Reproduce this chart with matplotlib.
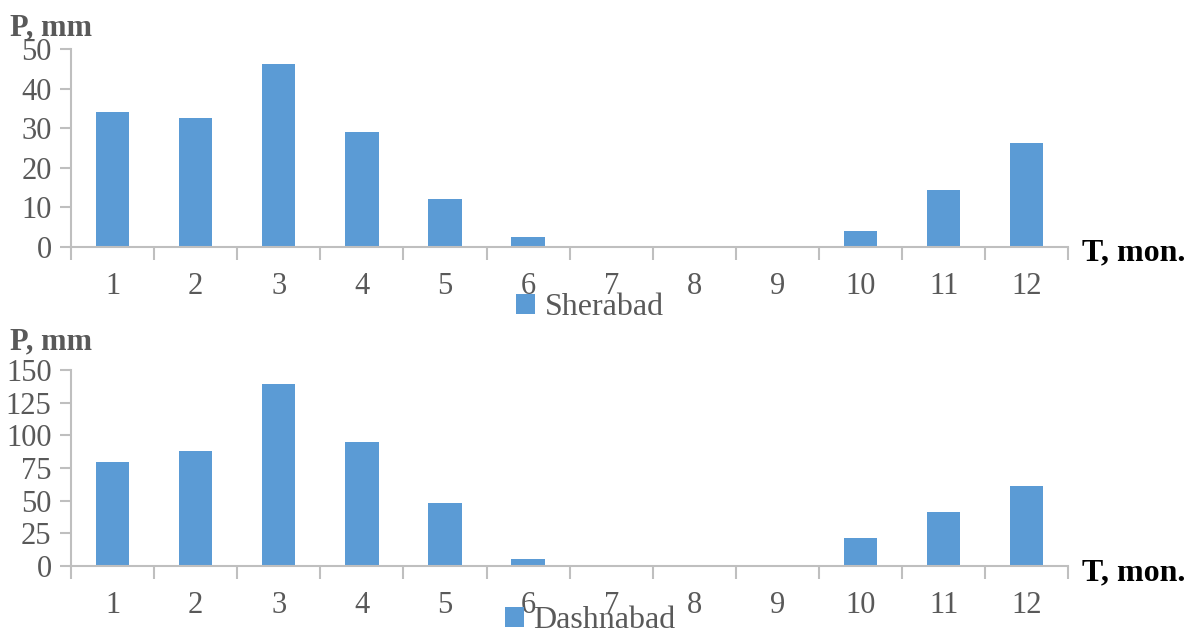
import matplotlib
matplotlib.use('Agg')
import matplotlib.pyplot as plt
import numpy as np

# monthly precipitation, mm
months = [str(m) for m in range(1, 13)]
sherabad = [34.2, 32.5, 46.2, 29.0, 12.0, 2.5, 0.1, 0.1, 0.05, 4.0, 14.3, 26.2]
dashnabad = [79.8, 88.0, 139.0, 94.9, 48.0, 5.1, 0.7, 0.2, 0.8, 21.2, 41.0, 61.4]
top_yticks = [0, 10, 20, 30, 40, 50]
bottom_yticks = [0, 25, 50, 75, 100, 125, 150]

plt.rcParams['font.family'] = ['Liberation Serif', 'DejaVu Serif']

bar_color = '#5B9BD5'
axis_gray = '#BFBFBF'
text_gray = '#595959'

fig = plt.figure(figsize=(11.9, 6.28), dpi=100)


def draw_panel(rect, values, yticks, station, legend_y):
    ax = fig.add_axes(rect)
    x = np.arange(1, 13)
    ax.bar(x, values, width=0.4, color=bar_color, label=station, zorder=2)
    ax.set_xlim(0.5, 12.5)
    ax.set_ylim(0, yticks[-1])
    ax.set_yticks(yticks)
    ax.set_xticks(x)
    ax.set_xticklabels(months)
    ax.set_xticks(np.arange(0.5, 13, 1), minor=True)
    for s in ['top', 'right']:
        ax.spines[s].set_visible(False)
    for s in ['left', 'bottom']:
        ax.spines[s].set_color(axis_gray)
        ax.spines[s].set_linewidth(1.5)
    ax.tick_params(axis='x', which='major', length=0, pad=18,
                   labelsize=22, labelcolor=text_gray)
    ax.tick_params(axis='x', which='minor', length=9, width=1.5,
                   color=axis_gray, direction='out')
    ax.tick_params(axis='y', length=8, width=1.5, color=axis_gray,
                   labelsize=22, labelcolor=text_gray, pad=6)
    leg = ax.legend(loc='center', bbox_to_anchor=(0.496, legend_y),
                    bbox_transform=fig.transFigure, frameon=False,
                    fontsize=23, handlelength=0.6, handleheight=0.6,
                    handletextpad=0.3, borderpad=0)
    for t in leg.get_texts():
        t.set_color(text_gray)
    return ax


draw_panel([0.0597, 0.6067, 0.838, 0.3153], sherabad, top_yticks,
           'Sherabad', 0.510)
draw_panel([0.0597, 0.0987, 0.838, 0.3121], dashnabad, bottom_yticks,
           'Dashnabad', 0.012)

# axis captions
fig.text(0.008, 0.955, 'P, mm', fontsize=22, fontweight='bold',
         color=text_gray, va='center', ha='left')
fig.text(0.008, 0.455, 'P, mm', fontsize=22, fontweight='bold',
         color=text_gray, va='center', ha='left')
fig.text(0.909, 0.598, 'T, mon.', fontsize=23, fontweight='bold',
         color='black', va='center', ha='left')
fig.text(0.909, 0.088, 'T, mon.', fontsize=23, fontweight='bold',
         color='black', va='center', ha='left')

fig.savefig('out.png', dpi=100)
